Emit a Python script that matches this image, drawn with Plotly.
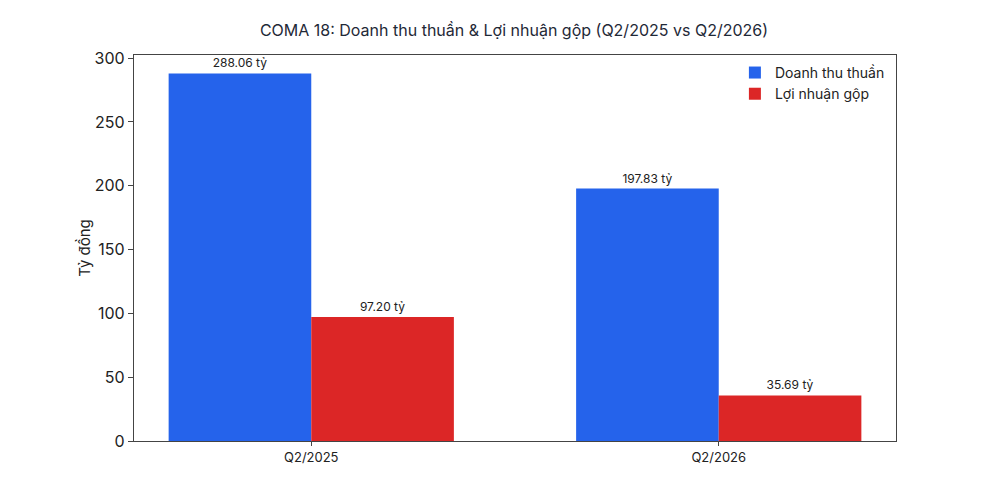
import plotly.graph_objects as go

categories = ["Q2/2025", "Q2/2026"]
doanh_thu = [288.06, 197.83]
loi_nhuan = [97.20, 35.69]
series_names = ["Doanh thu thuần", "Lợi nhuận gộp"]
y_ticks = [0, 50, 100, 150, 200, 250, 300]

FONT = "Inter, Roboto, 'Open Sans', sans-serif"

fig = go.Figure()
fig.add_trace(go.Bar(
    x=categories, y=doanh_thu, name=series_names[0],
    marker=dict(color="#2563EB", line=dict(width=0)),
    text=[f"{v:.2f} tỷ" for v in doanh_thu], textposition="outside",
    textfont=dict(size=12, color="#222222", family=FONT), cliponaxis=False,
))
fig.add_trace(go.Bar(
    x=categories, y=loi_nhuan, name=series_names[1],
    marker=dict(color="#DC2626", line=dict(width=0)),
    text=[f"{v:.2f} tỷ" for v in loi_nhuan], textposition="outside",
    textfont=dict(size=12, color="#222222", family=FONT), cliponaxis=False,
))

fig.update_layout(
    width=996, height=497,
    margin=dict(l=126, r=108, t=47, b=64),
    paper_bgcolor="white", plot_bgcolor="white",
    barmode="group", bargap=0.3, bargroupgap=0,
    font=dict(family=FONT, color="#222222"),
    title=dict(text="COMA 18: Doanh thu thuần & Lợi nhuận gộp (Q2/2025 vs Q2/2026)",
               x=0.508, xanchor="center", y=0.954, yanchor="middle",
               font=dict(size=16, color="#1f2937", family=FONT)),
    legend=dict(x=0.992, y=0.995, xanchor="right", yanchor="top",
                bgcolor="rgba(255,255,255,0)", font=dict(size=14, family=FONT),
                itemwidth=30, tracegroupgap=4),
    showlegend=True,
)
fig.update_xaxes(
    range=[-0.435, 1.435], showline=True, linecolor="#444444", linewidth=1.2,
    mirror=True, ticks="outside", ticklen=4, tickcolor="#444444",
    tickfont=dict(size=13, color="#222222"), showgrid=False,
)
fig.update_yaxes(
    range=[0, 302.46], tickvals=y_ticks, showline=True, linecolor="#444444",
    linewidth=1.2, mirror=True, ticks="outside", ticklen=5, tickcolor="#444444",
    tickfont=dict(size=16, color="#222222"), showgrid=False, zeroline=False,
    title=dict(text="Tỷ đồng", font=dict(size=15, color="#222222"), standoff=0),
)

fig.write_html("out.html")
